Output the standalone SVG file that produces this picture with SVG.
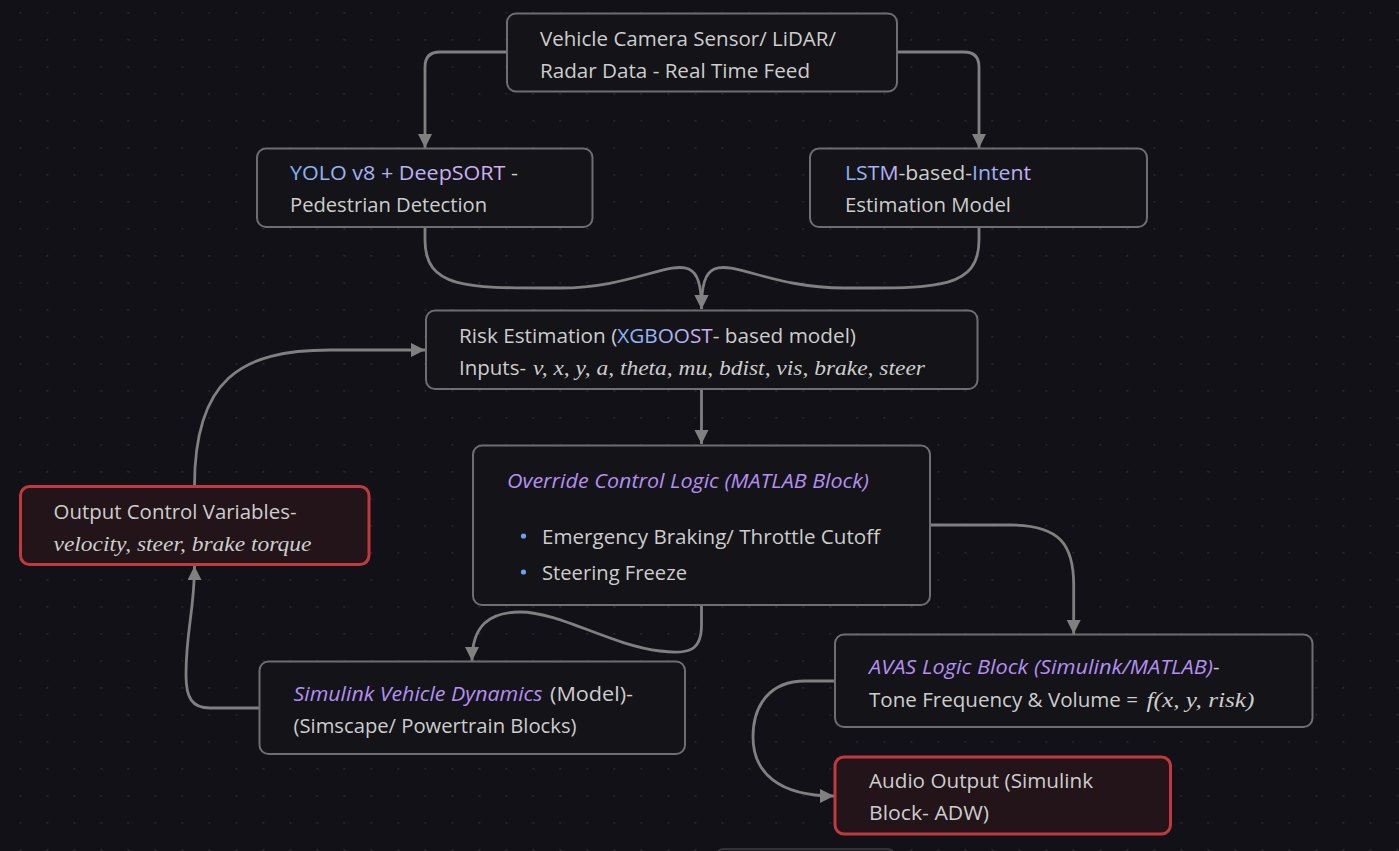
<svg xmlns="http://www.w3.org/2000/svg" width="1399" height="851" viewBox="0 0 1399 851">
<defs>
<pattern id="dots" patternUnits="userSpaceOnUse" x="19.5" y="12" width="27" height="27">
<rect x="0" y="0" width="1.6" height="1.6" fill="#2c2c34"/>
</pattern>
<marker id="arr" markerUnits="userSpaceOnUse" markerWidth="16" markerHeight="16" refX="14" refY="7" orient="auto">
<path d="M0,0 L14,7 L0,14 z" fill="#808080"/>
</marker>
<linearGradient id="gYolo" gradientUnits="userSpaceOnUse" x1="290" y1="0" x2="506" y2="0">
<stop offset="0" stop-color="#7fb4f6"/><stop offset="0.5" stop-color="#b6b4f6"/><stop offset="1" stop-color="#d8adf0"/>
</linearGradient>
<linearGradient id="gLstm" gradientUnits="userSpaceOnUse" x1="845" y1="0" x2="895" y2="0">
<stop offset="0" stop-color="#80b4f6"/><stop offset="1" stop-color="#c2b0f4"/>
</linearGradient>
<linearGradient id="gIntent" gradientUnits="userSpaceOnUse" x1="965" y1="0" x2="1031" y2="0">
<stop offset="0" stop-color="#80b4f6"/><stop offset="1" stop-color="#d2aef2"/>
</linearGradient>
<linearGradient id="gXg" gradientUnits="userSpaceOnUse" x1="616" y1="0" x2="713" y2="0">
<stop offset="0" stop-color="#7fb4f6"/><stop offset="1" stop-color="#d2aef2"/>
</linearGradient>
<style>
.box{fill:#131318;stroke:#6e6e72;stroke-width:2}
.red{fill:#221419;stroke:#c0393f;stroke-width:3}
.t{font-family:"Open Sans","Noto Sans",sans-serif;font-size:20px;fill:#cdcdcd}
.it{font-family:"Open Sans","Noto Sans",sans-serif;font-size:20px;font-style:italic;fill:#b38ff2}
.m{font-family:"Liberation Serif","DejaVu Serif",serif;font-size:21px;font-style:italic;fill:#cdcdcd}
.c{fill:none;stroke:#808080;stroke-width:2.8;marker-end:url(#arr)}
</style>
</defs>
<rect width="1399" height="851" fill="#111117"/>
<rect width="1399" height="851" fill="url(#dots)"/>
<rect x="717" y="849" width="177" height="20" rx="6" fill="#1b1b20" stroke="#3c3c44" stroke-width="1.5"/>

<g id="connectors">
<path class="c" d="M507,52 H440 Q425,52 425,67 V148"/>
<path class="c" d="M897,52 H964 Q979,52 979,67 V148"/>
<path class="c" d="M425,227 V240 C425,290 470,288 560,288 C660,288 701.5,230 701.5,309"/>
<path class="c" d="M979,227 V240 C979,290 934,288 844,288 C743,288 701.5,230 701.5,309"/>
<path class="c" d="M701.5,389 V444"/>
<path class="c" d="M930,525 H1010 C1060,525 1073.7,545 1073.7,585 V634"/>
<path class="c" d="M701.5,605 V625 C701.5,650 690,655 660,651 C610,645 560,612 520,612 C490,612 472,625 472,661"/>
<path class="c" d="M259,708 H210 C192,708 186,698 186,675 C186,630 194.5,610 194.5,566"/>
<path class="c" d="M194.5,486 C194.5,380 240,350 330,350 L425,350"/>
<path class="c" d="M835,681 H805 C770,681 753,705 753,737 C753,772 778,796 834,796"/>
</g>

<g id="node-sensor">
<rect class="box" x="507" y="13.5" width="390" height="78" rx="9"/>
<text class="t" x="540" y="46" textLength="296" lengthAdjust="spacingAndGlyphs">Vehicle Camera Sensor/ LiDAR/</text>
<text class="t" x="540" y="78" textLength="270" lengthAdjust="spacingAndGlyphs">Radar Data - Real Time Feed</text>
</g>

<g id="node-yolo">
<rect class="box" x="257" y="148.5" width="335.5" height="78.5" rx="9"/>
<text class="t" x="290" y="180" textLength="228" lengthAdjust="spacingAndGlyphs"><tspan fill="url(#gYolo)">YOLO v8 + DeepSORT</tspan> -</text>
<text class="t" x="290" y="212" textLength="197" lengthAdjust="spacingAndGlyphs">Pedestrian Detection</text>
</g>

<g id="node-lstm">
<rect class="box" x="810" y="148.5" width="337" height="78.5" rx="9"/>
<text class="t" x="845" y="180" textLength="186" lengthAdjust="spacingAndGlyphs"><tspan fill="url(#gLstm)">LSTM</tspan>-based-<tspan fill="url(#gIntent)">Intent</tspan></text>
<text class="t" x="845" y="212" textLength="166" lengthAdjust="spacingAndGlyphs">Estimation Model</text>
</g>

<g id="node-risk">
<rect class="box" x="426" y="310.5" width="551.5" height="78.5" rx="9"/>
<text class="t" x="459" y="343" textLength="397" lengthAdjust="spacingAndGlyphs">Risk Estimation (<tspan fill="url(#gXg)">XGBOOST</tspan>- based model)</text>
<text class="t" x="459" y="375" textLength="67" lengthAdjust="spacingAndGlyphs">Inputs-</text>
<text class="m" x="533" y="375" textLength="392" lengthAdjust="spacingAndGlyphs">v, x, y, a, theta, mu, bdist, vis, brake, steer</text>
</g>

<g id="node-override">
<rect class="box" x="473" y="445.5" width="457" height="159.5" rx="9"/>
<text class="it" x="507" y="488" textLength="362" lengthAdjust="spacingAndGlyphs">Override Control Logic (MATLAB Block)</text>
<circle cx="523.5" cy="536" r="2.6" fill="#6f9ff0"/>
<circle cx="523.5" cy="572" r="2.6" fill="#6f9ff0"/>
<text class="t" x="542" y="544" textLength="338" lengthAdjust="spacingAndGlyphs">Emergency Braking/ Throttle Cutoff</text>
<text class="t" x="542" y="580" textLength="145" lengthAdjust="spacingAndGlyphs">Steering Freeze</text>
</g>

<g id="node-output">
<rect class="red" x="20.5" y="486.5" width="348.5" height="78" rx="9"/>
<text class="t" x="53.5" y="519" textLength="243" lengthAdjust="spacingAndGlyphs">Output Control Variables-</text>
<text class="m" x="53.5" y="551" textLength="258" lengthAdjust="spacingAndGlyphs">velocity, steer, brake torque</text>
</g>

<g id="node-simulink">
<rect class="box" x="259.5" y="661.5" width="425.5" height="92.5" rx="9"/>
<text class="it" x="293.5" y="701" textLength="249" lengthAdjust="spacingAndGlyphs">Simulink Vehicle Dynamics</text>
<text class="t" x="550" y="701" textLength="83" lengthAdjust="spacingAndGlyphs">(Model)-</text>
<text class="t" x="293.5" y="733" textLength="283" lengthAdjust="spacingAndGlyphs">(Simscape/ Powertrain Blocks)</text>
</g>

<g id="node-avas">
<rect class="box" x="835" y="634.5" width="477.5" height="92.5" rx="9"/>
<text class="it" x="869" y="674" textLength="344" lengthAdjust="spacingAndGlyphs">AVAS Logic Block (Simulink/MATLAB)</text>
<text class="t" x="1213" y="674">-</text>
<text class="t" x="869" y="707" textLength="269" lengthAdjust="spacingAndGlyphs">Tone Frequency &amp; Volume =</text>
<text class="m" x="1146.5" y="707" textLength="108" lengthAdjust="spacingAndGlyphs">f(x, y, risk)</text>
</g>

<g id="node-audio">
<rect class="red" x="835" y="757" width="335.5" height="77" rx="9"/>
<text class="t" x="869" y="788" textLength="224" lengthAdjust="spacingAndGlyphs">Audio Output (Simulink</text>
<text class="t" x="869" y="820" textLength="120" lengthAdjust="spacingAndGlyphs">Block- ADW)</text>
</g>
</svg>
